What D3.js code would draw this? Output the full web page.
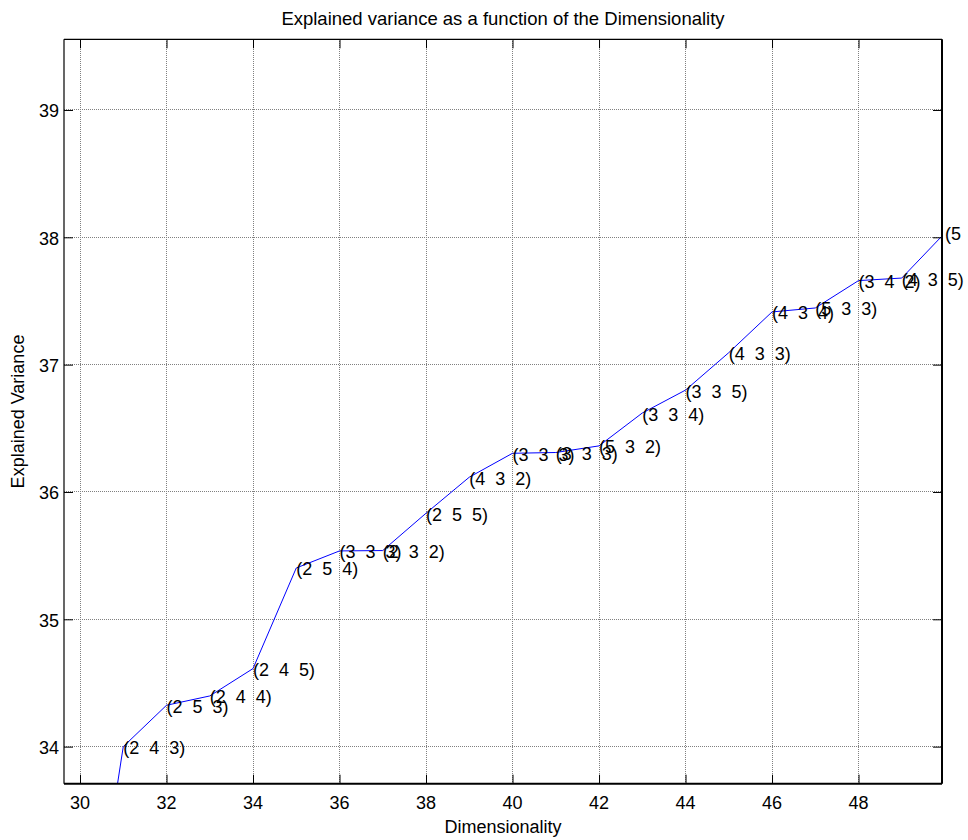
<!DOCTYPE html>
<html>
<head>
<meta charset="utf-8">
<script src="https://cdn.jsdelivr.net/npm/d3@7"></script>
<style>
  html, body { margin: 0; padding: 0; background: #fff; }
  svg { display: block; font-family: "Liberation Sans", Arial, Helvetica, sans-serif; }
</style>
</head>
<body>
<svg id="chart" width="968" height="840"></svg>
<script>
// Dimensionality of each configuration and the variance it explains
const dims = [30, 31, 32, 33, 34, 35, 36, 37, 38, 39, 40, 41, 42, 43, 44, 45, 46, 47, 48, 49, 50];
const variance = [31.8, 34.0, 34.325, 34.398, 34.613, 35.403, 35.537, 35.54, 35.833, 36.116,
                  36.304, 36.31, 36.362, 36.62, 36.80, 37.094, 37.414, 37.445, 37.66, 37.68, 38.035];
// Configuration triplet shown beside each point (first point falls below the axes)
const configs = [null, [2,4,3], [2,5,3], [2,4,4], [2,4,5], [2,5,4], [3,3,3], [2,3,2], [2,5,5], [4,3,2],
                 [3,3,3], [3,3,3], [5,3,2], [3,3,4], [3,3,5], [4,3,3], [4,3,4], [5,3,3], [3,4,2], [4,3,5], [5,3,3]];
const xTicks = [30, 32, 34, 36, 38, 40, 42, 44, 46, 48];
const yTicks = [34, 35, 36, 37, 38, 39];
const xLimits = [29.63, 49.93];
const yLimits = [33.709, 39.555];

const svg = d3.select("#chart");
const plot = { left: 64, right: 942, top: 39.3, bottom: 783.7 };
const x = d3.scaleLinear().domain(xLimits).range([plot.left, plot.right]);
const y = d3.scaleLinear().domain(yLimits).range([plot.bottom, plot.top]);
const fontSize = 18;
const tickLen = 9;

// Dotted grid
const grid = svg.append("g").attr("stroke", "#808080").attr("stroke-width", 1)
  .attr("stroke-dasharray", "1,1").attr("shape-rendering", "crispEdges");
grid.selectAll("line.gx").data(xTicks).join("line").attr("class", "gx")
  .attr("x1", d => x(d)).attr("x2", d => x(d)).attr("y1", plot.top).attr("y2", plot.bottom);
grid.selectAll("line.gy").data(yTicks).join("line").attr("class", "gy")
  .attr("y1", d => y(d)).attr("y2", d => y(d)).attr("x1", plot.left).attr("x2", plot.right);

// Data line, clipped to the axes box
svg.append("clipPath").attr("id", "clip").append("rect")
  .attr("x", plot.left).attr("y", plot.top)
  .attr("width", plot.right - plot.left).attr("height", plot.bottom - plot.top);
const pts = dims.map((d, i) => ({ d, v: variance[i], c: configs[i] }));
svg.append("path").datum(pts)
  .attr("clip-path", "url(#clip)")
  .attr("fill", "none").attr("stroke", "#0000ff").attr("stroke-width", 1)
  .attr("d", d3.line().x(p => x(p.d)).y(p => y(p.v)));

// Axes with inward ticks on all four sides
const ticksIn = g => g.call(s => s.select(".domain").remove())
  .call(s => s.selectAll(".tick line").attr("stroke", "#000"));
svg.append("g").attr("transform", `translate(0,${plot.bottom})`)
  .call(d3.axisBottom(x).tickValues(xTicks).tickSizeInner(-tickLen).tickSizeOuter(0).tickFormat(() => ""))
  .call(ticksIn);
svg.append("g").attr("transform", `translate(0,${plot.top})`)
  .call(d3.axisTop(x).tickValues(xTicks).tickSizeInner(-tickLen).tickSizeOuter(0).tickFormat(() => ""))
  .call(ticksIn);
svg.append("g").attr("transform", `translate(${plot.left},0)`)
  .call(d3.axisLeft(y).tickValues(yTicks).tickSizeInner(-tickLen).tickSizeOuter(0).tickFormat(() => ""))
  .call(ticksIn);
svg.append("g").attr("transform", `translate(${plot.right},0)`)
  .call(d3.axisRight(y).tickValues(yTicks).tickSizeInner(-tickLen).tickSizeOuter(0).tickFormat(() => ""))
  .call(ticksIn);

// Tick labels
svg.append("g").selectAll("text").data(xTicks).join("text")
  .attr("x", d => x(d)).attr("y", plot.bottom + 25.6)
  .attr("text-anchor", "middle").attr("font-size", fontSize).text(d => d);
svg.append("g").selectAll("text").data(yTicks).join("text")
  .attr("x", plot.left - 5).attr("y", d => y(d) + 7.5)
  .attr("text-anchor", "end").attr("font-size", fontSize).text(d => d);

// Axes box
const box = svg.append("g").attr("stroke", "#000").attr("fill", "none");
box.append("line").attr("x1", plot.left).attr("x2", plot.right).attr("y1", plot.top).attr("y2", plot.top).attr("stroke-width", 1.2);
box.append("line").attr("x1", plot.left).attr("x2", plot.left).attr("y1", plot.top).attr("y2", plot.bottom).attr("stroke-width", 1.2);
box.append("line").attr("x1", plot.left).attr("x2", plot.right).attr("y1", plot.bottom).attr("y2", plot.bottom).attr("stroke-width", 2);
box.append("line").attr("x1", plot.right).attr("x2", plot.right).attr("y1", plot.top).attr("y2", plot.bottom).attr("stroke-width", 2);

// Point annotations
svg.append("g").selectAll("text").data(pts.filter(p => p.c)).join("text")
  .attr("x", p => x(p.d)).attr("y", p => y(p.v) + 7.5)
  .attr("font-size", fontSize).attr("xml:space", "preserve").style("white-space", "pre")
  .text(p => "(" + p.c.join("  ") + ")");

// Titles
svg.append("text").attr("x", (plot.left + plot.right) / 2).attr("y", 25)
  .attr("text-anchor", "middle").attr("font-size", 18.5)
  .text("Explained variance as a function of the Dimensionality");
svg.append("text").attr("x", (plot.left + plot.right) / 2).attr("y", 833)
  .attr("text-anchor", "middle").attr("font-size", fontSize).text("Dimensionality");
svg.append("text").attr("transform", `translate(24,${(plot.top + plot.bottom) / 2}) rotate(-90)`)
  .attr("text-anchor", "middle").attr("font-size", fontSize).text("Explained Variance");
</script>
</body>
</html>
